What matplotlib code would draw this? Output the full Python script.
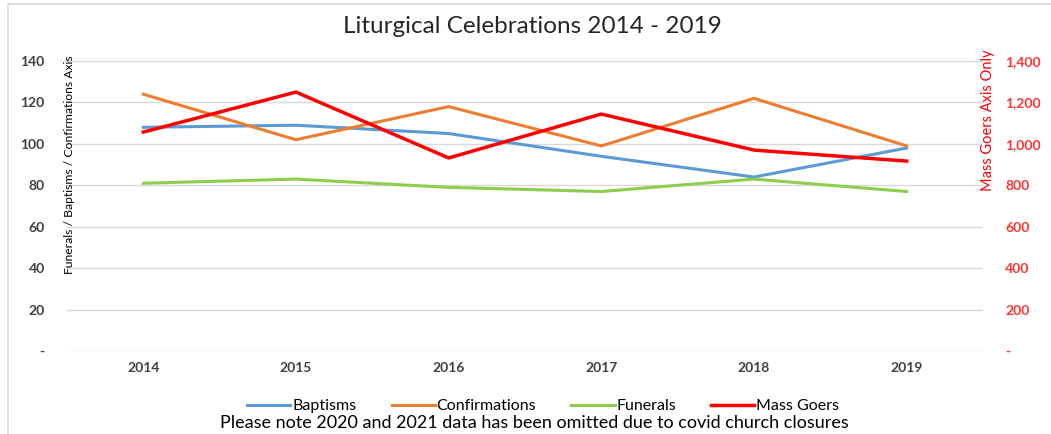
# Liturgical Celebrations 2014 - 2019 : dual axis line chart
import matplotlib.pyplot as plt
from matplotlib.patches import Rectangle
from matplotlib.ticker import FuncFormatter

# data
years         = ["2014", "2015", "2016", "2017", "2018", "2019"]
baptisms      = [108, 109, 105, 94, 84, 98]
confirmations = [124, 102, 118, 99, 122, 99]
funerals      = [81, 83, 79, 77, 83, 77]
mass_goers    = [1057, 1250, 932, 1144, 970, 917]

left_ticks  = [0, 20, 40, 60, 80, 100, 120, 140]
right_ticks = [0, 200, 400, 600, 800, 1000, 1200, 1400]

plt.rcParams['font.family'] = ['Lato', 'DejaVu Sans']
narrow = ['Liberation Sans Narrow', 'Lato', 'DejaVu Sans']

fig = plt.figure(figsize=(10.51, 4.34), dpi=100)
ax = fig.add_axes([0.0637, 0.1912, 0.8716, 0.6682])
ax2 = ax.twinx()

x = list(range(len(years)))
l1, = ax.plot(x, baptisms, color='#5b9bd5', lw=2.2, label='Baptisms')
l2, = ax.plot(x, confirmations, color='#ed7d31', lw=2.2, label='Confirmations')
l3, = ax.plot(x, funerals, color='#8ccf4d', lw=2.2, label='Funerals')
l4, = ax2.plot(x, mass_goers, color='#ff0000', lw=2.5, label='Mass Goers')

ax.set_xlim(-0.5, len(years) - 0.5)
ax.set_ylim(0, 140)
ax2.set_ylim(0, 1400)
ax.set_xticks(x)
ax.set_xticklabels(years, fontsize=10, fontweight='bold', color='#404040')
ax.set_yticks(left_ticks)
ax2.set_yticks(right_ticks)

dash = lambda v, p: '-' if v == 0 else f'{v:,.0f}'
ax.yaxis.set_major_formatter(FuncFormatter(dash))
ax2.yaxis.set_major_formatter(FuncFormatter(dash))
for t in ax.get_yticklabels():
    t.set_fontsize(10); t.set_fontweight('bold'); t.set_color('#404040')
for t in ax2.get_yticklabels():
    t.set_fontsize(10); t.set_fontweight('bold'); t.set_color('#ff3333')

ax.grid(axis='y', color='#d9d9d9', lw=1)
ax.set_axisbelow(True)
for a in (ax, ax2):
    for s in a.spines.values():
        s.set_visible(False)
    a.tick_params(length=0)
ax.tick_params(axis='y', pad=16)
ax.tick_params(axis='x', pad=8)
ax2.tick_params(axis='y', pad=16)

fig.text(0.066, 0.62, 'Funerals / Baptisms / Confirmations Axis', rotation=90,
         ha='center', va='center', fontsize=8.7, color='#000000', family=narrow)
fig.text(0.9396, 0.722, 'Mass Goers Axis Only', rotation=90,
         ha='center', va='center', fontsize=10.5, color='#ff0000', family=narrow)

fig.text(0.507, 0.94, 'Liturgical Celebrations 2014 - 2019', ha='center',
         va='center', fontsize=17.5, color='#262626')

fig.legend(handles=[l1, l2, l3, l4], loc='center', bbox_to_anchor=(0.517, 0.064),
           ncol=4, frameon=False, fontsize=11.5, handlelength=2.7,
           handletextpad=0.12, columnspacing=2.2, borderpad=0)
fig.text(0.508, 0.025, 'Please note 2020 and 2021 data has been omitted due to covid church closures',
         ha='center', va='center', fontsize=13, color='#000000')

# outer chart border
fig.patches.append(Rectangle((8 / 1051, -0.05), 1.1, 1.04, transform=fig.transFigure,
                             fill=False, edgecolor='#d9d9d9', lw=1.2))

fig.savefig('out.png', dpi=100)
